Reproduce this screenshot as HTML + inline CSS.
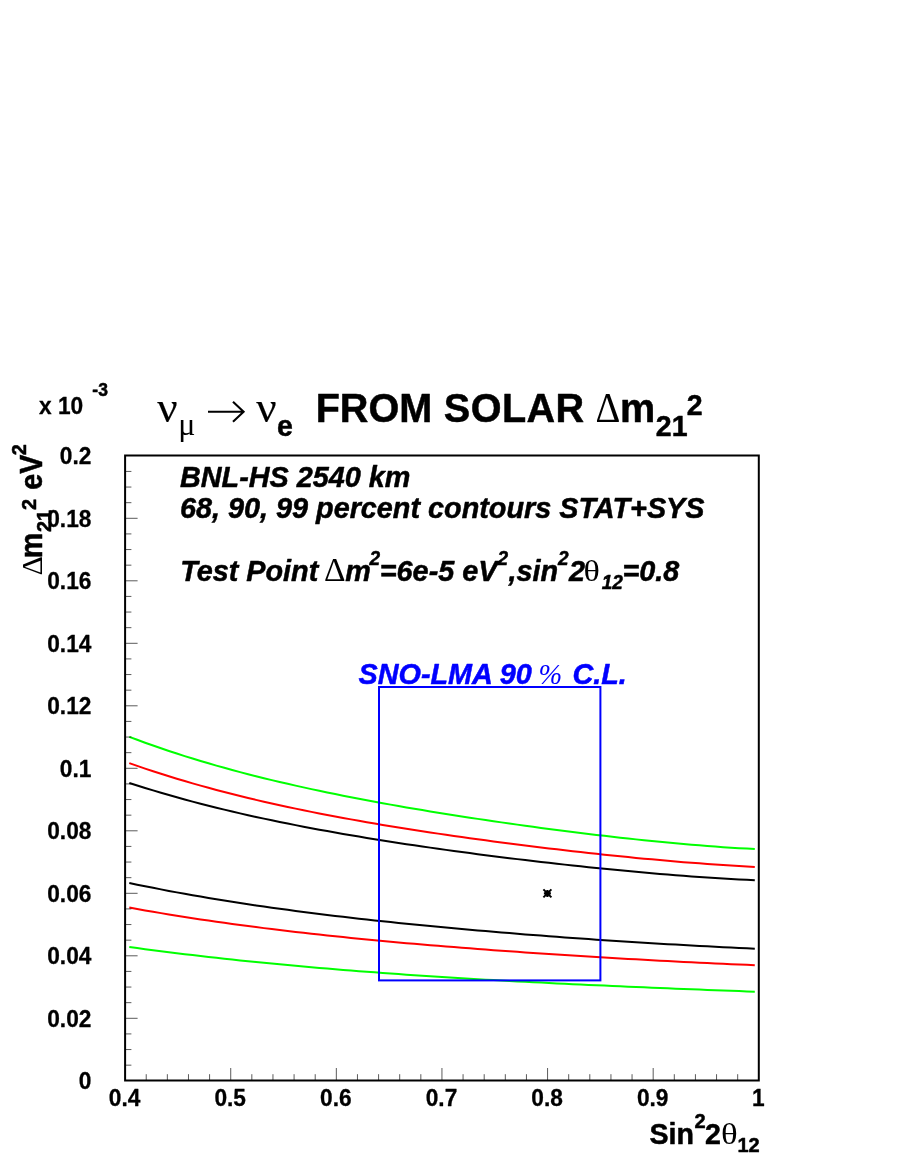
<!DOCTYPE html>
<html><head><meta charset="utf-8"><title>plot</title>
<style>
html,body{margin:0;padding:0;background:#fff;}
body{width:900px;height:1164px;overflow:hidden;font-family:"Liberation Sans",sans-serif;}
svg{display:block;will-change:transform;}
text{white-space:pre;}
</style></head><body>
<svg width="900" height="1164" viewBox="0 0 900 1164">
<path d="M129.3,736.83 L137.2,739.81 L145.1,742.71 L153.1,745.53 L161.0,748.28 L168.9,750.95 L176.8,753.56 L184.7,756.09 L192.6,758.56 L200.6,760.97 L208.5,763.31 L216.4,765.59 L224.3,767.82 L232.2,770.00 L240.1,772.11 L248.1,774.18 L256.0,776.20 L263.9,778.17 L271.8,780.10 L279.7,781.98 L287.7,783.83 L295.6,785.63 L303.5,787.39 L311.4,789.11 L319.3,790.80 L327.2,792.46 L335.2,794.08 L343.1,795.67 L351.0,797.23 L358.9,798.76 L366.8,800.26 L374.7,801.74 L382.7,803.19 L390.6,804.61 L398.5,806.01 L406.4,807.39 L414.3,808.74 L422.3,810.08 L430.2,811.39 L438.1,812.69 L446.0,813.96 L453.9,815.22 L461.8,816.45 L469.8,817.67 L477.7,818.87 L485.6,820.06 L493.5,821.23 L501.4,822.38 L509.4,823.51 L517.3,824.63 L525.2,825.73 L533.1,826.82 L541.0,827.89 L548.9,828.94 L556.9,829.98 L564.8,831.00 L572.7,832.00 L580.6,832.99 L588.5,833.96 L596.4,834.91 L604.4,835.84 L612.3,836.75 L620.2,837.65 L628.1,838.52 L636.0,839.37 L644.0,840.20 L651.9,841.01 L659.8,841.80 L667.7,842.56 L675.6,843.30 L683.5,844.01 L691.5,844.69 L699.4,845.35 L707.3,845.97 L715.2,846.57 L723.1,847.13 L731.0,847.66 L739.0,848.15 L746.9,848.61 L754.8,849.04" fill="none" stroke="#00ff00" stroke-width="2" stroke-linejoin="round"/>
<path d="M129.3,763.09 L137.2,765.87 L145.1,768.58 L153.1,771.21 L161.0,773.78 L168.9,776.27 L176.8,778.71 L184.7,781.07 L192.6,783.38 L200.6,785.63 L208.5,787.81 L216.4,789.95 L224.3,792.03 L232.2,794.06 L240.1,796.03 L248.1,797.96 L256.0,799.85 L263.9,801.69 L271.8,803.48 L279.7,805.24 L287.7,806.95 L295.6,808.63 L303.5,810.26 L311.4,811.87 L319.3,813.44 L327.2,814.97 L335.2,816.47 L343.1,817.95 L351.0,819.39 L358.9,820.81 L366.8,822.19 L374.7,823.56 L382.7,824.89 L390.6,826.21 L398.5,827.50 L406.4,828.76 L414.3,830.01 L422.3,831.23 L430.2,832.44 L438.1,833.62 L446.0,834.79 L453.9,835.93 L461.8,837.06 L469.8,838.18 L477.7,839.27 L485.6,840.35 L493.5,841.41 L501.4,842.46 L509.4,843.49 L517.3,844.50 L525.2,845.50 L533.1,846.49 L541.0,847.46 L548.9,848.41 L556.9,849.35 L564.8,850.28 L572.7,851.19 L580.6,852.08 L588.5,852.96 L596.4,853.82 L604.4,854.67 L612.3,855.49 L620.2,856.31 L628.1,857.10 L636.0,857.88 L644.0,858.64 L651.9,859.37 L659.8,860.09 L667.7,860.79 L675.6,861.47 L683.5,862.13 L691.5,862.76 L699.4,863.37 L707.3,863.96 L715.2,864.52 L723.1,865.05 L731.0,865.56 L739.0,866.04 L746.9,866.48 L754.8,866.90" fill="none" stroke="#ff0000" stroke-width="2" stroke-linejoin="round"/>
<path d="M129.3,782.95 L137.2,785.50 L145.1,787.99 L153.1,790.41 L161.0,792.77 L168.9,795.07 L176.8,797.31 L184.7,799.50 L192.6,801.63 L200.6,803.71 L208.5,805.74 L216.4,807.71 L224.3,809.65 L232.2,811.53 L240.1,813.37 L248.1,815.17 L256.0,816.92 L263.9,818.64 L271.8,820.32 L279.7,821.96 L287.7,823.56 L295.6,825.13 L303.5,826.67 L311.4,828.18 L319.3,829.65 L327.2,831.10 L335.2,832.51 L343.1,833.90 L351.0,835.26 L358.9,836.60 L366.8,837.91 L374.7,839.20 L382.7,840.47 L390.6,841.71 L398.5,842.94 L406.4,844.14 L414.3,845.32 L422.3,846.49 L430.2,847.63 L438.1,848.76 L446.0,849.87 L453.9,850.96 L461.8,852.04 L469.8,853.10 L477.7,854.14 L485.6,855.17 L493.5,856.18 L501.4,857.18 L509.4,858.16 L517.3,859.13 L525.2,860.08 L533.1,861.02 L541.0,861.94 L548.9,862.85 L556.9,863.75 L564.8,864.62 L572.7,865.49 L580.6,866.34 L588.5,867.17 L596.4,867.99 L604.4,868.79 L612.3,869.57 L620.2,870.34 L628.1,871.09 L636.0,871.83 L644.0,872.54 L651.9,873.24 L659.8,873.91 L667.7,874.57 L675.6,875.20 L683.5,875.81 L691.5,876.40 L699.4,876.97 L707.3,877.52 L715.2,878.03 L723.1,878.53 L731.0,878.99 L739.0,879.43 L746.9,879.84 L754.8,880.21" fill="none" stroke="#000000" stroke-width="2" stroke-linejoin="round"/>
<path d="M129.3,883.02 L137.2,884.67 L145.1,886.28 L153.1,887.85 L161.0,889.39 L168.9,890.90 L176.8,892.37 L184.7,893.80 L192.6,895.21 L200.6,896.58 L208.5,897.92 L216.4,899.24 L224.3,900.52 L232.2,901.78 L240.1,903.01 L248.1,904.21 L256.0,905.39 L263.9,906.54 L271.8,907.67 L279.7,908.77 L287.7,909.85 L295.6,910.91 L303.5,911.95 L311.4,912.96 L319.3,913.96 L327.2,914.94 L335.2,915.89 L343.1,916.83 L351.0,917.75 L358.9,918.66 L366.8,919.54 L374.7,920.41 L382.7,921.27 L390.6,922.11 L398.5,922.93 L406.4,923.74 L414.3,924.53 L422.3,925.31 L430.2,926.08 L438.1,926.84 L446.0,927.58 L453.9,928.31 L461.8,929.03 L469.8,929.73 L477.7,930.43 L485.6,931.11 L493.5,931.79 L501.4,932.45 L509.4,933.10 L517.3,933.74 L525.2,934.38 L533.1,935.00 L541.0,935.61 L548.9,936.21 L556.9,936.81 L564.8,937.39 L572.7,937.97 L580.6,938.53 L588.5,939.09 L596.4,939.64 L604.4,940.18 L612.3,940.71 L620.2,941.23 L628.1,941.74 L636.0,942.25 L644.0,942.74 L651.9,943.22 L659.8,943.70 L667.7,944.17 L675.6,944.62 L683.5,945.07 L691.5,945.51 L699.4,945.94 L707.3,946.35 L715.2,946.76 L723.1,947.16 L731.0,947.54 L739.0,947.92 L746.9,948.28 L754.8,948.63" fill="none" stroke="#000000" stroke-width="2" stroke-linejoin="round"/>
<path d="M129.3,907.56 L137.2,909.00 L145.1,910.41 L153.1,911.79 L161.0,913.13 L168.9,914.45 L176.8,915.73 L184.7,916.99 L192.6,918.22 L200.6,919.42 L208.5,920.59 L216.4,921.74 L224.3,922.86 L232.2,923.96 L240.1,925.04 L248.1,926.09 L256.0,927.11 L263.9,928.12 L271.8,929.11 L279.7,930.07 L287.7,931.01 L295.6,931.94 L303.5,932.84 L311.4,933.73 L319.3,934.60 L327.2,935.45 L335.2,936.29 L343.1,937.11 L351.0,937.91 L358.9,938.70 L366.8,939.47 L374.7,940.23 L382.7,940.98 L390.6,941.71 L398.5,942.43 L406.4,943.13 L414.3,943.83 L422.3,944.51 L430.2,945.18 L438.1,945.84 L446.0,946.48 L453.9,947.12 L461.8,947.75 L469.8,948.36 L477.7,948.97 L485.6,949.57 L493.5,950.16 L501.4,950.74 L509.4,951.31 L517.3,951.87 L525.2,952.42 L533.1,952.97 L541.0,953.50 L548.9,954.03 L556.9,954.55 L564.8,955.07 L572.7,955.57 L580.6,956.07 L588.5,956.56 L596.4,957.05 L604.4,957.52 L612.3,957.99 L620.2,958.45 L628.1,958.91 L636.0,959.36 L644.0,959.80 L651.9,960.23 L659.8,960.66 L667.7,961.08 L675.6,961.49 L683.5,961.89 L691.5,962.29 L699.4,962.68 L707.3,963.06 L715.2,963.43 L723.1,963.80 L731.0,964.15 L739.0,964.50 L746.9,964.84 L754.8,965.17" fill="none" stroke="#ff0000" stroke-width="2" stroke-linejoin="round"/>
<path d="M129.3,947.02 L137.2,948.10 L145.1,949.16 L153.1,950.20 L161.0,951.22 L168.9,952.22 L176.8,953.20 L184.7,954.16 L192.6,955.10 L200.6,956.03 L208.5,956.94 L216.4,957.82 L224.3,958.70 L232.2,959.55 L240.1,960.39 L248.1,961.21 L256.0,962.02 L263.9,962.81 L271.8,963.58 L279.7,964.34 L287.7,965.09 L295.6,965.82 L303.5,966.53 L311.4,967.23 L319.3,967.92 L327.2,968.60 L335.2,969.26 L343.1,969.90 L351.0,970.54 L358.9,971.16 L366.8,971.77 L374.7,972.37 L382.7,972.96 L390.6,973.53 L398.5,974.10 L406.4,974.65 L414.3,975.19 L422.3,975.72 L430.2,976.24 L438.1,976.76 L446.0,977.26 L453.9,977.75 L461.8,978.23 L469.8,978.71 L477.7,979.17 L485.6,979.63 L493.5,980.08 L501.4,980.52 L509.4,980.95 L517.3,981.38 L525.2,981.80 L533.1,982.21 L541.0,982.61 L548.9,983.01 L556.9,983.40 L564.8,983.78 L572.7,984.16 L580.6,984.53 L588.5,984.90 L596.4,985.26 L604.4,985.62 L612.3,985.97 L620.2,986.32 L628.1,986.66 L636.0,987.00 L644.0,987.33 L651.9,987.66 L659.8,987.99 L667.7,988.31 L675.6,988.63 L683.5,988.95 L691.5,989.26 L699.4,989.57 L707.3,989.88 L715.2,990.18 L723.1,990.48 L731.0,990.78 L739.0,991.08 L746.9,991.38 L754.8,991.67" fill="none" stroke="#00ff00" stroke-width="2" stroke-linejoin="round"/>
<rect x="379.0" y="687.0" width="221.39999999999998" height="293.4" fill="none" stroke="#0000ff" stroke-width="2"/>
<g stroke="#000" stroke-linecap="butt" fill="none"><path stroke-width="2" d="M543.4,889.4 L551.4,897.4 M543.4,897.4 L551.4,889.4"/><path stroke-width="2.2" d="M543.9,893.4 L550.9,893.4 M547.4,889.9 L547.4,896.9"/></g><rect x="545.1" y="891.1" width="4.6" height="4.6" fill="#000"/>
<path d="M125.1,1065.17 h6.3 M125.1,1049.55 h6.3 M125.1,1033.92 h6.3 M125.1,1018.30 h12.5 M125.1,1002.67 h6.3 M125.1,987.05 h6.3 M125.1,971.42 h6.3 M125.1,955.80 h12.5 M125.1,940.17 h6.3 M125.1,924.55 h6.3 M125.1,908.92 h6.3 M125.1,893.30 h12.5 M125.1,877.67 h6.3 M125.1,862.05 h6.3 M125.1,846.42 h6.3 M125.1,830.80 h12.5 M125.1,815.17 h6.3 M125.1,799.55 h6.3 M125.1,783.92 h6.3 M125.1,768.30 h12.5 M125.1,752.67 h6.3 M125.1,737.05 h6.3 M125.1,721.42 h6.3 M125.1,705.80 h12.5 M125.1,690.17 h6.3 M125.1,674.55 h6.3 M125.1,658.92 h6.3 M125.1,643.30 h12.5 M125.1,627.67 h6.3 M125.1,612.05 h6.3 M125.1,596.42 h6.3 M125.1,580.80 h12.5 M125.1,565.17 h6.3 M125.1,549.55 h6.3 M125.1,533.92 h6.3 M125.1,518.30 h12.5 M125.1,502.68 h6.3 M125.1,487.05 h6.3 M125.1,471.43 h6.3 M146.22,1080.5 v-6.3 M167.35,1080.5 v-6.3 M188.47,1080.5 v-6.3 M209.59,1080.5 v-6.3 M230.72,1080.5 v-12.5 M251.84,1080.5 v-6.3 M272.96,1080.5 v-6.3 M294.09,1080.5 v-6.3 M315.21,1080.5 v-6.3 M336.33,1080.5 v-12.5 M357.46,1080.5 v-6.3 M378.58,1080.5 v-6.3 M399.70,1080.5 v-6.3 M420.83,1080.5 v-6.3 M441.95,1080.5 v-12.5 M463.07,1080.5 v-6.3 M484.20,1080.5 v-6.3 M505.32,1080.5 v-6.3 M526.44,1080.5 v-6.3 M547.57,1080.5 v-12.5 M568.69,1080.5 v-6.3 M589.81,1080.5 v-6.3 M610.94,1080.5 v-6.3 M632.06,1080.5 v-6.3 M653.18,1080.5 v-12.5 M674.31,1080.5 v-6.3 M695.43,1080.5 v-6.3 M716.55,1080.5 v-6.3 M737.68,1080.5 v-6.3" stroke="#000" stroke-width="0.65" fill="none"/>
<rect x="125.1" y="455.5" width="633.6999999999999" height="625.0" fill="none" stroke="#000" stroke-width="2"/>
<text transform="translate(91.4,1089.0) scale(1.0,1.04)" font-family="Liberation Sans" font-size="22.7" font-weight="bold" font-style="normal" text-anchor="end" fill="#000" stroke="#000" stroke-width="0.3" stroke-linejoin="round">0</text>
<text transform="translate(91.4,1026.5) scale(1.0,1.04)" font-family="Liberation Sans" font-size="22.7" font-weight="bold" font-style="normal" text-anchor="end" fill="#000" stroke="#000" stroke-width="0.3" stroke-linejoin="round">0.02</text>
<text transform="translate(91.4,964.0) scale(1.0,1.04)" font-family="Liberation Sans" font-size="22.7" font-weight="bold" font-style="normal" text-anchor="end" fill="#000" stroke="#000" stroke-width="0.3" stroke-linejoin="round">0.04</text>
<text transform="translate(91.4,901.5) scale(1.0,1.04)" font-family="Liberation Sans" font-size="22.7" font-weight="bold" font-style="normal" text-anchor="end" fill="#000" stroke="#000" stroke-width="0.3" stroke-linejoin="round">0.06</text>
<text transform="translate(91.4,839.0) scale(1.0,1.04)" font-family="Liberation Sans" font-size="22.7" font-weight="bold" font-style="normal" text-anchor="end" fill="#000" stroke="#000" stroke-width="0.3" stroke-linejoin="round">0.08</text>
<text transform="translate(91.4,776.5) scale(1.0,1.04)" font-family="Liberation Sans" font-size="22.7" font-weight="bold" font-style="normal" text-anchor="end" fill="#000" stroke="#000" stroke-width="0.3" stroke-linejoin="round">0.1</text>
<text transform="translate(91.4,714.0) scale(1.0,1.04)" font-family="Liberation Sans" font-size="22.7" font-weight="bold" font-style="normal" text-anchor="end" fill="#000" stroke="#000" stroke-width="0.3" stroke-linejoin="round">0.12</text>
<text transform="translate(91.4,651.5) scale(1.0,1.04)" font-family="Liberation Sans" font-size="22.7" font-weight="bold" font-style="normal" text-anchor="end" fill="#000" stroke="#000" stroke-width="0.3" stroke-linejoin="round">0.14</text>
<text transform="translate(91.4,589.0) scale(1.0,1.04)" font-family="Liberation Sans" font-size="22.7" font-weight="bold" font-style="normal" text-anchor="end" fill="#000" stroke="#000" stroke-width="0.3" stroke-linejoin="round">0.16</text>
<text transform="translate(91.4,526.5) scale(1.0,1.04)" font-family="Liberation Sans" font-size="22.7" font-weight="bold" font-style="normal" text-anchor="end" fill="#000" stroke="#000" stroke-width="0.3" stroke-linejoin="round">0.18</text>
<text transform="translate(91.4,464.0) scale(1.0,1.04)" font-family="Liberation Sans" font-size="22.7" font-weight="bold" font-style="normal" text-anchor="end" fill="#000" stroke="#000" stroke-width="0.3" stroke-linejoin="round">0.2</text>
<text transform="translate(124.6,1105.7) scale(1.0,1.04)" font-family="Liberation Sans" font-size="22.7" font-weight="bold" font-style="normal" text-anchor="middle" fill="#000" stroke="#000" stroke-width="0.3" stroke-linejoin="round">0.4</text>
<text transform="translate(230.2,1105.7) scale(1.0,1.04)" font-family="Liberation Sans" font-size="22.7" font-weight="bold" font-style="normal" text-anchor="middle" fill="#000" stroke="#000" stroke-width="0.3" stroke-linejoin="round">0.5</text>
<text transform="translate(335.8,1105.7) scale(1.0,1.04)" font-family="Liberation Sans" font-size="22.7" font-weight="bold" font-style="normal" text-anchor="middle" fill="#000" stroke="#000" stroke-width="0.3" stroke-linejoin="round">0.6</text>
<text transform="translate(441.5,1105.7) scale(1.0,1.04)" font-family="Liberation Sans" font-size="22.7" font-weight="bold" font-style="normal" text-anchor="middle" fill="#000" stroke="#000" stroke-width="0.3" stroke-linejoin="round">0.7</text>
<text transform="translate(547.1,1105.7) scale(1.0,1.04)" font-family="Liberation Sans" font-size="22.7" font-weight="bold" font-style="normal" text-anchor="middle" fill="#000" stroke="#000" stroke-width="0.3" stroke-linejoin="round">0.8</text>
<text transform="translate(652.7,1105.7) scale(1.0,1.04)" font-family="Liberation Sans" font-size="22.7" font-weight="bold" font-style="normal" text-anchor="middle" fill="#000" stroke="#000" stroke-width="0.3" stroke-linejoin="round">0.9</text>
<text transform="translate(758.3,1105.7) scale(1.0,1.04)" font-family="Liberation Sans" font-size="22.7" font-weight="bold" font-style="normal" text-anchor="middle" fill="#000" stroke="#000" stroke-width="0.3" stroke-linejoin="round">1</text>
<text transform="translate(39,414.2) scale(1.0,1.03)" font-family="Liberation Sans" font-size="22.7" font-weight="bold" font-style="normal" text-anchor="start" fill="#000" stroke="#000" stroke-width="0.3" stroke-linejoin="round">x 10</text>
<text transform="translate(92.3,396) scale(1.0,1.05)" font-family="Liberation Sans" font-size="17.5" font-weight="bold" font-style="normal" text-anchor="start" fill="#000" stroke="#000" stroke-width="0.5" stroke-linejoin="round">-3</text>
<text transform="translate(157.3,421.9) scale(1.0,1.0)" font-family="Liberation Serif" font-size="45" font-weight="normal" font-style="normal" text-anchor="start" fill="#000" stroke="#000" stroke-width="0.15" stroke-linejoin="round">ν</text>
<text transform="translate(178.3,435.4) scale(1.0,1.0)" font-family="Liberation Serif" font-size="32" font-weight="normal" font-style="normal" text-anchor="start" fill="#000" >μ</text>
<path d="M208,411.7 H243.2 M233,401.7 L243.6,411.7 L233,421.7" fill="none" stroke="#000" stroke-width="2.1" stroke-linejoin="miter"/>
<text transform="translate(256.3,421.9) scale(1.0,1.0)" font-family="Liberation Serif" font-size="45" font-weight="normal" font-style="normal" text-anchor="start" fill="#000" stroke="#000" stroke-width="0.15" stroke-linejoin="round">ν</text>
<text transform="translate(277,435.7) scale(1.0,1.04)" font-family="Liberation Sans" font-size="28.5" font-weight="bold" font-style="normal" text-anchor="start" fill="#000" stroke="#000" stroke-width="0.5" stroke-linejoin="round">e</text>
<text transform="translate(315.7,421.9) scale(1.0,1.04)" font-family="Liberation Sans" font-size="39.6" font-weight="bold" font-style="normal" text-anchor="start" fill="#000" stroke="#000" stroke-width="0.5" stroke-linejoin="round">FROM</text>
<g letter-spacing="0.45">
<text transform="translate(443.8,421.9) scale(1.0,1.04)" font-family="Liberation Sans" font-size="39.6" font-weight="bold" font-style="normal" text-anchor="start" fill="#000" stroke="#000" stroke-width="0.5" stroke-linejoin="round">SOLAR</text>
</g>
<text transform="translate(595.6,421.9) scale(1.0,1.08)" font-family="Liberation Serif" font-size="38.6" font-weight="normal" font-style="normal" text-anchor="start" fill="#000" >Δ</text>
<text transform="translate(620,421.9) scale(1.0,1.04)" font-family="Liberation Sans" font-size="39.6" font-weight="bold" font-style="normal" text-anchor="start" fill="#000" stroke="#000" stroke-width="0.5" stroke-linejoin="round">m</text>
<text transform="translate(655.8,435.7) scale(1.0,1.04)" font-family="Liberation Sans" font-size="28.5" font-weight="bold" font-style="normal" text-anchor="start" fill="#000" stroke="#000" stroke-width="0.5" stroke-linejoin="round">21</text>
<text transform="translate(686.8,415.1) scale(1.0,1.04)" font-family="Liberation Sans" font-size="28.5" font-weight="bold" font-style="normal" text-anchor="start" fill="#000" stroke="#000" stroke-width="0.5" stroke-linejoin="round">2</text>
<text transform="translate(180,486.5) scale(1.0,1.05)" font-family="Liberation Sans" font-size="28.8" font-weight="bold" font-style="italic" text-anchor="start" fill="#000" stroke="#000" stroke-width="0.5" stroke-linejoin="round">BNL-HS 2540 km</text>
<text transform="translate(180,518.4) scale(1.0,1.05)" font-family="Liberation Sans" font-size="28.8" font-weight="bold" font-style="italic" text-anchor="start" fill="#000" stroke="#000" stroke-width="0.5" stroke-linejoin="round">68, 90, 99 percent contours STAT+SYS</text>
<text transform="translate(180.2,580.6) scale(1.0,1.05)" font-family="Liberation Sans" font-size="28.8" font-weight="bold" font-style="italic" text-anchor="start" fill="#000" stroke="#000" stroke-width="0.5" stroke-linejoin="round">Test Point</text>
<text transform="translate(324.0,580.6) scale(1.0,1.02)" font-family="Liberation Serif" font-size="33.5" font-weight="normal" font-style="normal" text-anchor="start" fill="#000" >Δ</text>
<text transform="translate(345.3,580.6) scale(1.0,1.05)" font-family="Liberation Sans" font-size="28.8" font-weight="bold" font-style="italic" text-anchor="start" fill="#000" stroke="#000" stroke-width="0.5" stroke-linejoin="round">m</text>
<text transform="translate(369.4,565) scale(1.0,1.05)" font-family="Liberation Sans" font-size="19" font-weight="bold" font-style="italic" text-anchor="start" fill="#000" stroke="#000" stroke-width="0.5" stroke-linejoin="round">2</text>
<text transform="translate(379.8,580.6) scale(1.0,1.05)" font-family="Liberation Sans" font-size="28.8" font-weight="bold" font-style="italic" text-anchor="start" fill="#000" stroke="#000" stroke-width="0.5" stroke-linejoin="round">=6e-5 eV</text>
<text transform="translate(497.6,565) scale(1.0,1.05)" font-family="Liberation Sans" font-size="19" font-weight="bold" font-style="italic" text-anchor="start" fill="#000" stroke="#000" stroke-width="0.5" stroke-linejoin="round">2</text>
<text transform="translate(508.5,580.6) scale(1.0,1.05)" font-family="Liberation Sans" font-size="28.8" font-weight="bold" font-style="italic" text-anchor="start" fill="#000" stroke="#000" stroke-width="0.5" stroke-linejoin="round">,sin</text>
<text transform="translate(558,565) scale(1.0,1.05)" font-family="Liberation Sans" font-size="19" font-weight="bold" font-style="italic" text-anchor="start" fill="#000" stroke="#000" stroke-width="0.5" stroke-linejoin="round">2</text>
<text transform="translate(569,580.6) scale(1.0,1.05)" font-family="Liberation Sans" font-size="28.8" font-weight="bold" font-style="italic" text-anchor="start" fill="#000" stroke="#000" stroke-width="0.5" stroke-linejoin="round">2</text>
<text transform="translate(583.6,580.6) scale(1.2,1.0)" font-family="Liberation Serif" font-size="28.4" font-weight="normal" font-style="normal" text-anchor="start" fill="#000" >θ</text>
<text transform="translate(601.8,589) scale(1.0,1.05)" font-family="Liberation Sans" font-size="19" font-weight="bold" font-style="italic" text-anchor="start" fill="#000" stroke="#000" stroke-width="0.5" stroke-linejoin="round">12</text>
<text transform="translate(622.5,580.6) scale(1.0,1.05)" font-family="Liberation Sans" font-size="28.8" font-weight="bold" font-style="italic" text-anchor="start" fill="#000" stroke="#000" stroke-width="0.5" stroke-linejoin="round">=0.8</text>
<text transform="translate(358.5,684) scale(1.0,1.05)" font-family="Liberation Sans" font-size="28.8" font-weight="bold" font-style="italic" text-anchor="start" fill="#0000ff" stroke="#0000ff" stroke-width="0.5" stroke-linejoin="round">SNO-LMA 90</text>
<text transform="translate(538.6,684) scale(1.0,1.0)" font-family="Liberation Serif" font-size="28.4" font-weight="normal" font-style="italic" text-anchor="start" fill="#0000ff" >%</text>
<text transform="translate(572.5,684) scale(1.0,1.05)" font-family="Liberation Sans" font-size="28.8" font-weight="bold" font-style="italic" text-anchor="start" fill="#0000ff" stroke="#0000ff" stroke-width="0.5" stroke-linejoin="round">C.L.</text>
<text transform="translate(649.5,1143.5) scale(1.0,1.05)" font-family="Liberation Sans" font-size="28.6" font-weight="bold" font-style="normal" text-anchor="start" fill="#000" stroke="#000" stroke-width="0.5" stroke-linejoin="round">Sin</text>
<text transform="translate(694.5,1128.4) scale(1.0,1.05)" font-family="Liberation Sans" font-size="20" font-weight="bold" font-style="normal" text-anchor="start" fill="#000" stroke="#000" stroke-width="0.5" stroke-linejoin="round">2</text>
<text transform="translate(705,1143.5) scale(1.0,1.05)" font-family="Liberation Sans" font-size="28.6" font-weight="bold" font-style="normal" text-anchor="start" fill="#000" stroke="#000" stroke-width="0.5" stroke-linejoin="round">2</text>
<text transform="translate(721.0,1143.5) scale(1.2,1.0)" font-family="Liberation Serif" font-size="29" font-weight="normal" font-style="normal" text-anchor="start" fill="#000" >θ</text>
<text transform="translate(737.5,1152.2) scale(1.0,1.05)" font-family="Liberation Sans" font-size="20" font-weight="bold" font-style="normal" text-anchor="start" fill="#000" stroke="#000" stroke-width="0.5" stroke-linejoin="round">12</text>
<g transform="translate(42.3,575.5) rotate(-90)">
<text transform="translate(0,0) scale(1.0,1.0)" font-family="Liberation Serif" font-size="30" font-weight="normal" font-style="normal" text-anchor="start" fill="#000" >Δ</text>
<text transform="translate(17.2,0) scale(1.0,1.07)" font-family="Liberation Sans" font-size="28.6" font-weight="bold" font-style="normal" text-anchor="start" fill="#000" stroke="#000" stroke-width="0.5" stroke-linejoin="round">m</text>
<text transform="translate(43.5,8.3) scale(1.0,1.05)" font-family="Liberation Sans" font-size="20" font-weight="bold" font-style="normal" text-anchor="start" fill="#000" stroke="#000" stroke-width="0.5" stroke-linejoin="round">21</text>
<text transform="translate(65.5,-6) scale(1.0,1.05)" font-family="Liberation Sans" font-size="20" font-weight="bold" font-style="normal" text-anchor="start" fill="#000" stroke="#000" stroke-width="0.5" stroke-linejoin="round">2</text>
<text transform="translate(85.8,0) scale(1.0,1.08)" font-family="Liberation Sans" font-size="28.6" font-weight="bold" font-style="normal" text-anchor="start" fill="#000" stroke="#000" stroke-width="0.5" stroke-linejoin="round">eV</text>
<text transform="translate(120.2,-16) scale(1.0,1.05)" font-family="Liberation Sans" font-size="20" font-weight="bold" font-style="normal" text-anchor="start" fill="#000" stroke="#000" stroke-width="0.5" stroke-linejoin="round">2</text>
</g>
</svg>
</body></html>
